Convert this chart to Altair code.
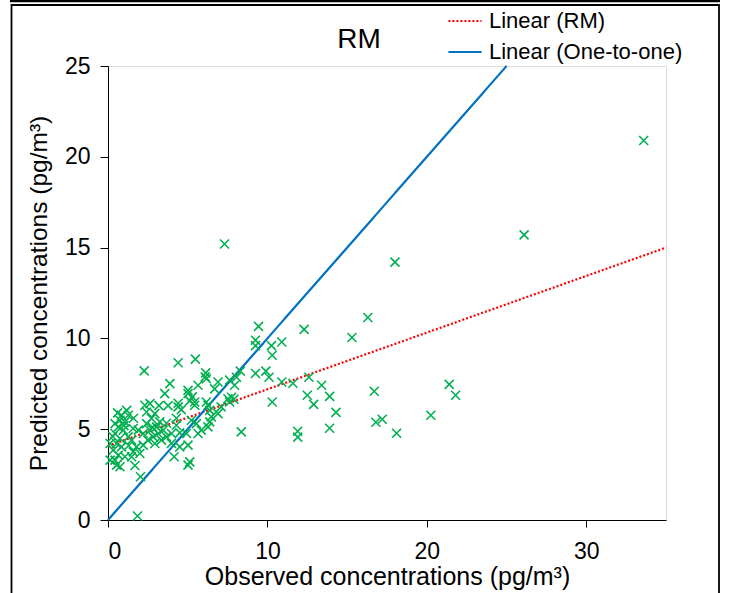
import altair as alt
import pandas as pd

FONT = "Liberation Sans, Arial"

# Observed (x) and predicted (y) concentrations
obs_x = [4.40, 5.48, 2.27, 6.13, 6.10, 3.88, 3.56, 5.02, 5.02, 5.65, 6.17, 6.90, 7.63, 6.69, 5.29,
         5.13, 5.44, 5.44, 3.77, 4.40, 4.40, 4.60, 6.17, 6.27, 7.10, 7.63, 7.90, 2.31, 2.63, 1.17,
         0.85, 2.42, 2.94, 2.73, 3.25, 3.04, 3.46, 3.15, 2.83, 3.35, 3.67, 2.94, 1.06, 0.65, 0.96,
         0.44, 0.75, 1.27, 0.54, 0.85, 0.33, 0.65, 1.06, 0.44, 0.13, 0.54, 0.75, 1.48, 1.58, 1.79,
         1.58, 2.00, 1.48, 2.21, 1.69, 2.04, 1.85, 4.15, 4.50, 5.02, 5.02, 5.13, 4.50, 3.98, 4.92,
         5.65, 5.85, 5.54, 6.48, 6.38, 6.27, 6.90, 6.38, 7.52, 7.75, 0.13, 1.27, 0.75, 0.44, 2.42,
         2.63, 2.21, 1.90, 4.29, 4.29, 5.23, 3.67, 3.98, 1.00, 2.50, 1.30, 0.30, 2.80, 3.20, 1.60,
         0.60,
         8.06, 7.94, 8.30, 8.36, 9.25, 9.90, 10.10, 9.44, 9.25, 9.25, 10.25, 10.90, 10.30, 10.30,
         10.90, 11.60, 12.60, 12.30, 13.40, 12.50, 13.90, 12.90, 14.30, 15.30, 16.30, 16.70, 21.40,
         21.80, 20.25, 11.90, 11.90, 13.90, 16.80, 17.20, 18.10, 7.31, 18.00, 26.10, 33.60]
pred_y = [8.66, 8.86, 8.21, 8.10, 7.88, 7.51, 6.96, 7.14, 6.96, 7.42, 7.78, 7.60, 7.70, 7.22, 6.78,
          6.56, 6.50, 6.32, 6.30, 6.43, 6.23, 6.08, 6.50, 6.32, 6.23, 6.50, 6.65, 6.32, 6.41, 6.04,
          5.77, 5.95, 5.86, 5.59, 5.40, 5.13, 4.95, 4.76, 4.58, 4.40, 4.58, 4.21, 5.40, 5.13, 4.95,
          4.76, 4.49, 4.58, 4.21, 4.03, 3.85, 3.57, 3.48, 3.30, 3.30, 3.02, 2.93, 4.40, 5.04, 4.03,
          3.75, 3.66, 3.48, 4.12, 3.00, 2.38, 0.22, 3.48, 4.03, 4.12, 3.02, 3.20, 4.80, 4.76, 4.76,
          4.76, 4.95, 5.31, 5.68, 5.40, 5.13, 5.86, 6.04, 6.68, 6.76, 4.21, 5.77, 5.49, 5.31, 5.31,
          4.95, 4.76, 4.95, 5.60, 5.22, 5.49, 5.33, 4.22, 5.20, 4.40, 4.10, 4.60, 5.10, 6.30, 5.60,
          5.90,
          7.86, 7.42, 8.20, 4.85, 8.07, 8.20, 7.86, 10.66, 9.90, 9.60, 9.60, 9.80, 9.07, 6.50,
          7.60, 7.53, 7.86, 10.50, 7.42, 6.87, 6.81, 6.37, 5.93, 10.05, 11.15, 7.09, 7.47,
          6.87, 5.77, 4.89, 4.56, 5.05, 5.38, 5.55, 4.78, 15.20, 14.20, 15.70, 20.90]

# Trend lines (end points)
line_series = ["Linear (RM)", "Linear (RM)", "Linear (One-to-one)", "Linear (One-to-one)"]
line_x = [0, 35, 0, 25]
line_y = [4.08, 15.0, 0, 25]
series_order = ["Linear (RM)", "Linear (One-to-one)"]

x_ticks = [0, 10, 20, 30]
y_ticks = [0, 5, 10, 15, 20, 25]
title_text = ["RM"]

pts = pd.DataFrame({"obs": obs_x, "pred": pred_y})
lines = pd.DataFrame({"series": line_series, "obs": line_x, "pred": line_y})

W, H = 558, 454

xscale = alt.Scale(domain=[0, 35], nice=False, zero=False)
yscale = alt.Scale(domain=[0, 25], nice=False, zero=False)

xaxis = alt.Axis(values=x_ticks, title="Observed concentrations (pg/m³)", grid=False,
                 tickSize=7, labelPadding=13, labelFontSize=23, titleFontSize=25,
                 titlePadding=1, labelFont=FONT, titleFont=FONT, titleFontWeight="normal",
                 domainColor="black", tickColor="black", labelColor="black", titleColor="black")
yaxis = alt.Axis(values=y_ticks, title="Predicted concentrations (pg/m³)", grid=False,
                 tickSize=8, labelPadding=10, labelFontSize=23, titleFontSize=24.5,
                 titlePadding=13, labelFont=FONT, titleFont=FONT, titleFontWeight="normal",
                 domainColor="black", tickColor="black", labelColor="black", titleColor="black")

points = alt.Chart(pts).mark_point(
    shape="M-1,-1L1,1M-1,1L1,-1", filled=False, color="#00B050",
    strokeWidth=1.6, size=81, opacity=1
).encode(
    x=alt.X("obs:Q", scale=xscale, axis=xaxis),
    y=alt.Y("pred:Q", scale=yscale, axis=yaxis),
)

legend = alt.Legend(title=None, orient="none", legendX=339, legendY=-63,
                    labelFontSize=22, labelFont=FONT, labelColor="black", labelLimit=0,
                    symbolType="stroke", symbolSize=1100, symbolStrokeWidth=2,
                    rowPadding=2, labelOffset=6, padding=0)

line_layer = alt.Chart(lines).mark_line(strokeWidth=2.2).encode(
    x=alt.X("obs:Q", scale=xscale),
    y=alt.Y("pred:Q", scale=yscale),
    detail="series:N",
    color=alt.Color("series:N",
                    scale=alt.Scale(domain=series_order, range=["#FF0000", "#0070C0"]),
                    legend=legend),
    strokeDash=alt.StrokeDash("series:N",
                              scale=alt.Scale(domain=series_order, range=[[2, 2], [1, 0]]),
                              legend=legend),
)

title = alt.Chart(pd.DataFrame({"t": title_text})).mark_text(
    fontSize=28, font=FONT, color="black", align="center", baseline="middle"
).encode(text="t:N", x=alt.value(251), y=alt.value(-26))

frame = alt.Chart(pd.DataFrame({"k": [0]})).mark_rect(
    fill=None, stroke="black", strokeWidth=1.8
).encode(x=alt.value(-96.5), x2=alt.value(611), y=alt.value(-61), y2=alt.value(560))

topline = alt.Chart(pd.DataFrame({"k": [0]})).mark_rule(
    color="black", strokeWidth=2.5
).encode(x=alt.value(-98), x2=alt.value(612), y=alt.value(-65))

chart = alt.layer(frame, topline, title, line_layer, points).properties(
    width=W, height=H,
    autosize=alt.AutoSizeParams(type="none"),
    padding={"left": 108, "top": 66, "right": 65, "bottom": 73},
).configure_view(stroke="black", strokeWidth=1.2).configure(background="white")

chart.save("out.html", embed_options={"renderer": "svg", "actions": False})
